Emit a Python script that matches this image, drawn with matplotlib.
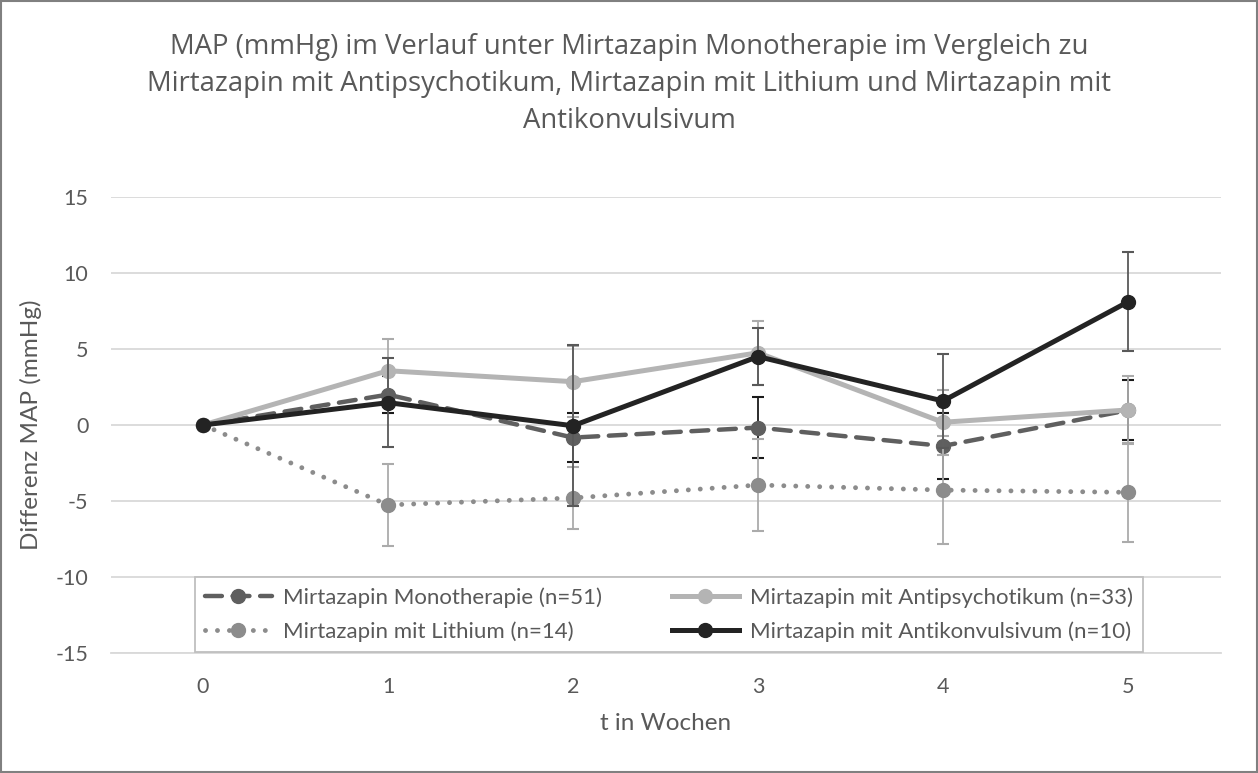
import matplotlib.pyplot as plt
from matplotlib.patches import Rectangle

plt.rcParams['axes.unicode_minus'] = False

# weeks and mean change of MAP (mmHg) with error bars
weeks = [0, 1, 2, 3, 4, 5]

mono = [0, 2.0, -0.83, -0.17, -1.38, 0.97]
mono_err = [0, 1.2, 1.6, 2.0, 2.15, 1.98]

antipsych = [0, 3.57, 2.85, 4.75, 0.18, 0.99]
antipsych_err = [0, 2.1, 2.35, 2.1, 2.15, 2.22]

lithium = [0, -5.26, -4.8, -3.95, -4.28, -4.43]
lithium_err = [0, 2.7, 2.05, 3.05, 3.55, 3.25]

antikonv = [0, 1.47, -0.05, 4.5, 1.58, 8.1]
antikonv_err = [0, 2.95, 5.3, 1.9, 3.1, 3.25]

labels = ['Mirtazapin Monotherapie (n=51)',
          'Mirtazapin mit Antipsychotikum (n=33)',
          'Mirtazapin mit Lithium (n=14)',
          'Mirtazapin mit Antikonvulsivum (n=10)']

title = ('MAP (mmHg) im Verlauf unter Mirtazapin Monotherapie im Vergleich zu\n'
         'Mirtazapin mit Antipsychotikum, Mirtazapin mit Lithium und Mirtazapin mit\n'
         'Antikonvulsivum')

txt = '#595959'
fig = plt.figure(figsize=(12.58, 7.73), dpi=100)
ax = fig.add_axes([110.5 / 1258, 1 - 653 / 773, 1110 / 1258, 456 / 773])

ms = 10
cap = 4.3
h_mono = ax.errorbar(weeks, mono, yerr=mono_err, color='#5f5f5f', lw=3.2,
                     ls=(0, (3.8, 2.4)), dash_capstyle='round', marker='o', ms=ms,
                     ecolor='#1a1a1a', elinewidth=1.3, capsize=cap, capthick=1.5, zorder=3)
h_anti = ax.errorbar(weeks, antipsych, yerr=antipsych_err, color='#b4b4b4', lw=3.6,
                     marker='o', ms=ms, ecolor='#ababab', elinewidth=1.3,
                     capsize=cap, capthick=1.5, zorder=4)
h_li = ax.errorbar(weeks, lithium, yerr=lithium_err, color='#8c8c8c', lw=3.5,
                   ls=(0, (0.01, 2.45)), dash_capstyle='round', marker='o', ms=ms,
                   ecolor='#ababab', elinewidth=1.3, capsize=cap, capthick=1.5, zorder=5)
h_konv = ax.errorbar(weeks, antikonv, yerr=antikonv_err, color='#232323', lw=3.6,
                     marker='o', ms=ms, ecolor='#595959', elinewidth=1.3,
                     capsize=cap, capthick=1.5, zorder=6)

ax.set_xlim(-0.5, 5.5)
ax.set_ylim(-15, 15)
ax.set_yticks(range(-15, 16, 5))
ax.set_xticks(weeks)
ax.grid(axis='y', color='#d9d9d9', lw=1.3)
ax.set_axisbelow(True)
for s in ['left', 'right', 'top']:
    ax.spines[s].set_visible(False)
ax.spines['bottom'].set_color('#d9d9d9')
ax.spines['bottom'].set_linewidth(1.3)
ax.tick_params(length=0, labelsize=15.5, labelcolor=txt)
ax.tick_params(axis='y', pad=16)
ax.tick_params(axis='x', pad=17)
for t in ax.get_xticklabels() + ax.get_yticklabels():
    t.set_family('Lato')

ax.set_xlabel('t in Wochen', fontsize=17.5, color=txt, family='Lato', labelpad=12)
ax.set_ylabel('Differenz MAP (mmHg)', fontsize=17.5, color=txt, family='Lato', labelpad=10)

fig.text(0.5, 1 - 33 / 773, title, ha='center', va='top', fontsize=19.8,
         color=txt, family='Open Sans', linespacing=1.42)

leg = ax.legend([h_mono[0], h_li[0], h_anti[0], h_konv[0]],
                [labels[0], labels[2], labels[1], labels[3]],
                ncol=2, mode='expand', loc='lower left',
                bbox_to_anchor=(0.0761, 0.002, 0.854, 0.162), borderaxespad=0,
                prop={'family': 'Lato', 'size': 16}, labelcolor=txt,
                handlelength=3.0, handletextpad=0.5, fancybox=False,
                edgecolor='#bfbfbf', framealpha=1, labelspacing=0.62, borderpad=0.45)
leg.get_frame().set_linewidth(1.3)
leg.set_zorder(10)

fig.patches.append(Rectangle((0.0008, 0.0013), 0.9984, 0.9974, transform=fig.transFigure,
                             fill=False, edgecolor='#808080', lw=1.5))

fig.savefig('out.png', dpi=100)
